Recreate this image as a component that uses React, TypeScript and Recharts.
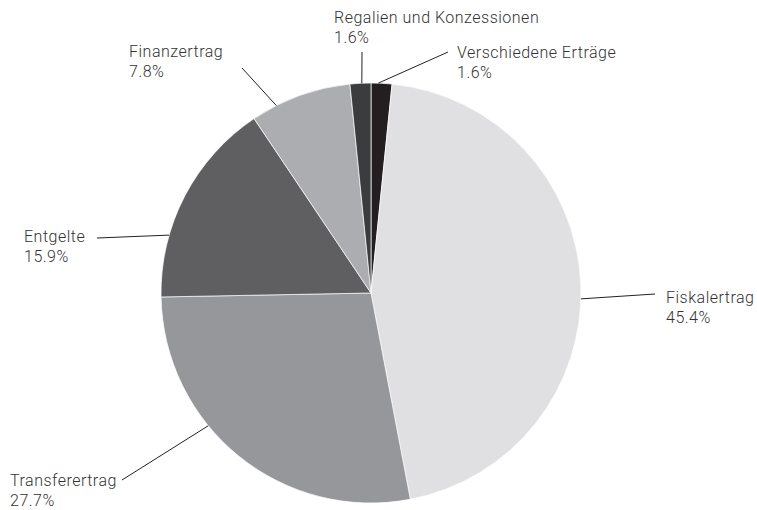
import React from 'react';
import { PieChart, Pie, Cell } from 'recharts';

const categories = [
  'Verschiedene Erträge',
  'Fiskalertrag',
  'Transferertrag',
  'Entgelte',
  'Finanzertrag',
  'Regalien und Konzessionen',
];
const shares = [1.6, 45.4, 27.7, 15.9, 7.8, 1.6];
const colors = ['#231f20', '#e0e0e2', '#96979b', '#5f5f61', '#acadb0', '#3b3c3e'];

// label layout: attach angle on the rim (deg), line end and text start relative to pie centre
const labelLayout = [
  { angle: 88, ex: 77, ey: -241, tx: 86, ty: -235 },
  { angle: -1.6, ex: 284, ey: 1, tx: 295, ty: 10 },
  { angle: -140.8, ex: -249, ey: 187, tx: -361, ty: 193 },
  { angle: 164, ex: -274, ey: -55, tx: -347, ty: -51 },
  { angle: 116.8, ex: -129, ey: -225, tx: -242, ty: -236 },
  { angle: 92.5, ex: -9, ey: -241, tx: -37, ty: -270 },
];

const data = categories.map((name, i) => ({ name, value: shares[i] }));

const RAD = Math.PI / 180;

const renderLabel = (props: any) => {
  const { cx, cy, outerRadius, index } = props;
  const l = labelLayout[index];
  const sx = cx + outerRadius * Math.cos(l.angle * RAD);
  const sy = cy - outerRadius * Math.sin(l.angle * RAD);
  return (
    <g>
      <line x1={sx} y1={sy} x2={cx + l.ex} y2={cy + l.ey} stroke="#222" strokeWidth={1} />
      <text
        x={cx + l.tx}
        y={cy + l.ty}
        fill="#333"
        fontFamily="Roboto, sans-serif"
        fontWeight={300}
        fontSize={16}
        letterSpacing={0.5}
        textAnchor="start"
      >
        <tspan x={cx + l.tx} dy={0}>{categories[index]}</tspan>
        <tspan x={cx + l.tx} dy={20}>{shares[index].toFixed(1)}%</tspan>
      </text>
    </g>
  );
};

export default function App() {
  return (
    <div style={{ position: 'absolute', left: 0, top: 0, width: 757, height: 510, background: '#fff' }}>
      <PieChart width={757} height={510} margin={{ top: 0, right: 0, bottom: 0, left: 0 }}>
        <Pie
          data={data}
          dataKey="value"
          nameKey="name"
          cx={371}
          cy={293}
          outerRadius={210}
          startAngle={90}
          endAngle={-270}
          stroke="#ffffff"
          strokeWidth={0.7}
          label={renderLabel}
          labelLine={false}
          isAnimationActive={false}
        >
          {data.map((d, i) => (
            <Cell key={d.name} fill={colors[i]} />
          ))}
        </Pie>
      </PieChart>
    </div>
  );
}
